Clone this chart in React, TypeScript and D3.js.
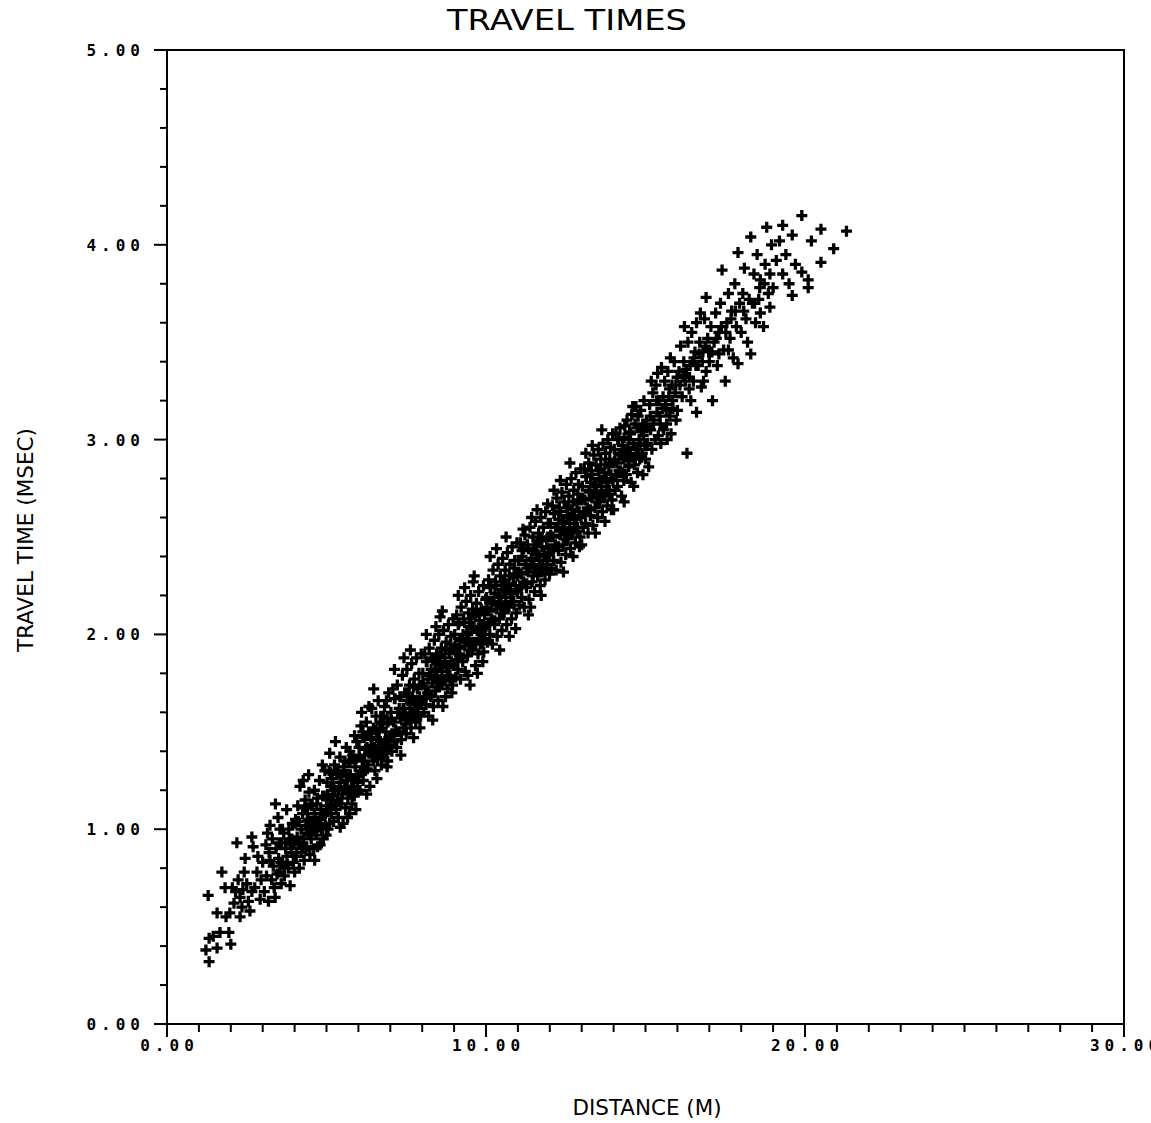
import React from "react";
import * as d3 from "d3";

const nearPoints: [number, number][] = [
  [1.22,0.38],[1.29,0.66],[1.32,0.32],[1.32,0.44],[1.57,0.39],[1.57,0.57],[1.66,0.47],[1.72,0.78],[1.82,0.70],[1.94,0.47],[1.97,0.57],[1.45,0.45],[1.85,0.55],
  [2.0,0.41],[2.19,0.93],[2.23,0.74],[2.29,0.55],[2.29,0.65],[2.5,0.72],[2.6,0.58],[2.66,0.68],[2.66,0.96],[2.7,0.91],[2.82,0.78],[2.92,0.64],[2.1,0.62],[2.15,0.68],[2.35,0.60],[2.42,0.78],[2.55,0.63],[2.75,0.70],[2.85,0.86],[2.95,0.74],[2.45,0.85],[2.05,0.7],[2.38,0.69],
  [3.0,0.83],[3.23,1.02],[3.23,0.84],[3.39,0.65],[3.54,1.0],[3.54,0.78],[3.76,0.86],[3.05,0.68],[3.1,0.92],[3.12,0.76],[3.18,0.63],[3.2,0.88],[3.28,0.74],[3.3,0.95],[3.33,0.81],[3.36,0.70],[3.42,0.90],[3.45,0.77],[3.48,1.06],[3.5,0.85],[3.58,0.72],[3.6,0.93],[3.63,0.82],[3.66,0.98],[3.68,0.76],[3.72,0.90],[3.75,1.1],[3.8,0.80],[3.83,0.95],[3.86,0.71],[3.9,0.88],[3.93,1.03],[3.96,0.83],[3.98,0.92],[3.15,0.98],[3.4,1.13],
  [4.0,0.78],[4.08,0.96],[4.03,1.05],[4.05,0.86],[4.1,1.12],[4.12,0.93],[4.15,0.80],[4.17,1.22],[4.2,1.0],[4.22,0.88],[4.25,1.08],[4.28,0.95],[4.3,0.84],[4.33,1.15],[4.35,1.02],[4.38,0.91],[4.4,1.08],[4.42,0.98],[4.45,1.19],[4.48,0.87],[4.5,1.04],[4.52,0.95],[4.55,1.13],[4.58,1.01],[4.6,0.90],[4.62,1.2],[4.65,1.06],[4.68,0.97],[4.7,1.13],[4.72,0.91],[4.75,1.03],[4.78,1.25],[4.8,0.92],[4.82,1.1],[4.85,1.0],[4.88,1.17],[4.9,0.95],[4.92,1.07],[4.95,1.3],[4.97,1.02],[4.99,0.97],[4.44,1.28],[4.63,0.84],[4.27,1.25],[4.87,1.33],
];

const middlePoints: [number, number][] = [
  [5.0,1.12],[5.02,1.24],[5.05,1.0],[5.08,1.3],[5.1,1.03],[5.1,1.39],[5.12,1.15],[5.15,1.08],[5.18,1.26],[5.2,1.17],[5.22,1.04],[5.25,1.33],[5.27,1.2],[5.3,1.1],[5.32,1.28],[5.35,1.15],[5.37,1.06],[5.4,1.22],[5.42,1.37],[5.45,1.13],[5.47,1.27],[5.5,1.18],[5.52,1.03],[5.55,1.3],[5.57,1.21],[5.6,1.11],[5.62,1.42],[5.65,1.25],[5.67,1.16],[5.7,1.34],[5.72,1.08],[5.75,1.28],[5.77,1.2],[5.8,1.13],[5.82,1.38],[5.85,1.25],[5.87,1.17],[5.9,1.32],[5.92,1.1],[5.95,1.45],[5.97,1.24],[5.99,1.19],[5.28,1.45],[5.58,1.35],[5.88,1.48],[5.13,1.22],[5.43,1.01],[5.73,1.4],[5.36,1.3],[5.66,1.06],
  [6.0,1.28],[6.02,1.42],[6.05,1.2],[6.08,1.53],[6.1,1.6],[6.12,1.35],[6.15,1.25],[6.18,1.47],[6.2,1.38],[6.22,1.3],[6.25,1.55],[6.27,1.42],[6.3,1.33],[6.32,1.5],[6.35,1.4],[6.36,1.22],[6.4,1.46],[6.42,1.62],[6.45,1.37],[6.47,1.52],[6.5,1.42],[6.52,1.3],[6.55,1.58],[6.57,1.47],[6.6,1.36],[6.62,1.66],[6.65,1.5],[6.67,1.41],[6.7,1.58],[6.72,1.33],[6.75,1.52],[6.77,1.44],[6.8,1.37],[6.82,1.63],[6.85,1.5],[6.87,1.42],[6.9,1.57],[6.92,1.35],[6.95,1.7],[6.97,1.48],[6.99,1.43],[6.14,1.5],[6.33,1.63],[6.58,1.26],[6.78,1.58],[6.9,1.32],[6.48,1.72],[6.26,1.18],[6.68,1.55],[6.88,1.66],
  [7.0,1.47],[7.02,1.6],[7.05,1.4],[7.08,1.72],[7.1,1.55],[7.12,1.45],[7.15,1.67],[7.18,1.5],[7.2,1.42],[7.22,1.74],[7.25,1.6],[7.27,1.5],[7.3,1.68],[7.32,1.57],[7.35,1.46],[7.38,1.79],[7.4,1.62],[7.42,1.52],[7.45,1.7],[7.47,1.59],[7.5,1.49],[7.52,1.82],[7.55,1.66],[7.57,1.56],[7.6,1.74],[7.62,1.62],[7.65,1.52],[7.67,1.85],[7.7,1.68],[7.72,1.59],[7.75,1.77],[7.77,1.65],[7.8,1.55],[7.82,1.88],[7.85,1.72],[7.87,1.62],[7.9,1.8],[7.92,1.68],[7.95,1.58],[7.97,1.9],[7.99,1.74],[7.13,1.82],[7.43,1.88],[7.73,1.47],[7.33,1.38],[7.63,1.92],[7.93,1.52],[7.28,1.62],[7.58,1.7],[7.88,1.66],
  [8.0,1.66],[8.02,1.8],[8.05,1.6],[8.08,1.9],[8.1,1.73],[8.12,1.64],[8.15,1.86],[8.18,1.7],[8.2,1.58],[8.22,1.93],[8.25,1.79],[8.27,1.68],[8.3,1.88],[8.32,1.75],[8.35,1.63],[8.38,1.97],[8.4,1.82],[8.42,1.71],[8.45,1.9],[8.47,1.78],[8.5,1.66],[8.52,2.0],[8.55,1.85],[8.56,2.09],[8.58,1.74],[8.6,1.93],[8.62,1.81],[8.65,1.63],[8.67,2.02],[8.7,1.88],[8.72,1.77],[8.75,1.96],[8.77,1.84],[8.8,1.72],[8.82,2.05],[8.85,1.9],[8.87,1.79],[8.9,1.99],[8.92,1.86],[8.95,1.74],[8.97,2.08],[8.99,1.92],[8.13,2.0],[8.43,2.04],[8.73,1.68],[8.33,1.56],[8.63,2.12],[8.93,1.7],[8.28,1.82],[8.58,1.9],[8.88,1.95],[8.18,1.77],[8.48,1.86],
  [9.0,1.85],[9.02,2.0],[9.05,1.78],[9.08,2.1],[9.1,1.93],[9.12,1.82],[9.15,2.06],[9.18,1.9],[9.2,1.77],[9.22,2.14],[9.25,1.98],[9.27,1.86],[9.3,2.08],[9.32,1.94],[9.35,1.81],[9.38,2.17],[9.4,2.01],[9.42,1.89],[9.45,2.11],[9.47,1.97],[9.5,1.74],[9.52,2.2],[9.55,2.04],[9.57,1.92],[9.6,2.27],[9.62,2.1],[9.65,1.96],[9.67,1.84],[9.7,2.16],[9.72,2.02],[9.75,1.9],[9.77,2.22],[9.8,2.07],[9.82,1.95],[9.85,2.13],[9.87,2.0],[9.9,1.86],[9.92,2.25],[9.95,2.1],[9.97,1.97],[9.99,2.18],[9.13,2.2],[9.43,1.79],[9.73,1.8],[9.33,2.24],[9.63,2.3],[9.93,1.91],[9.28,2.0],[9.58,2.13],[9.88,2.05],[9.18,1.97],[9.48,2.06],
  [10.0,2.04],[10.02,2.19],[10.05,1.96],[10.08,2.28],[10.1,2.12],[10.12,2.0],[10.15,2.24],[10.18,2.08],[10.2,1.95],[10.22,2.33],[10.25,2.17],[10.27,2.05],[10.3,2.27],[10.32,2.13],[10.35,1.99],[10.38,2.36],[10.4,2.2],[10.42,2.08],[10.45,2.3],[10.47,2.16],[10.5,2.02],[10.52,2.39],[10.55,2.23],[10.57,2.11],[10.6,2.33],[10.62,2.19],[10.65,2.05],[10.67,2.42],[10.7,2.26],[10.72,2.14],[10.75,2.36],[10.77,2.22],[10.8,2.08],[10.82,2.45],[10.85,2.29],[10.87,2.17],[10.9,2.38],[10.92,2.25],[10.95,2.11],[10.97,2.47],[10.99,2.3],[10.13,2.4],[10.43,1.92],[10.73,1.99],[10.33,2.44],[10.63,2.5],[10.93,2.03],[10.28,2.21],[10.58,2.28],[10.88,2.34],[10.18,2.16],[10.48,2.25],
  [11.0,2.23],[11.02,2.38],[11.05,2.15],[11.08,2.47],[11.1,2.31],[11.12,2.19],[11.16,2.54],[11.18,2.27],[11.2,2.14],[11.22,2.51],[11.25,2.36],[11.27,2.24],[11.3,2.46],[11.32,2.32],[11.35,2.18],[11.38,2.55],[11.4,2.14],[11.42,2.39],[11.45,2.27],[11.47,2.5],[11.5,2.35],[11.52,2.22],[11.55,2.58],[11.57,2.42],[11.6,2.64],[11.62,2.3],[11.65,2.52],[11.67,2.38],[11.7,2.25],[11.72,2.6],[11.75,2.45],[11.77,2.33],[11.8,2.55],[11.82,2.41],[11.85,2.28],[11.87,2.63],[11.9,2.48],[11.92,2.36],[11.95,2.57],[11.97,2.44],[11.99,2.31],[11.13,2.4],[11.43,2.6],[11.73,2.2],[11.33,2.1],[11.63,2.47],[11.93,2.67],[11.28,2.34],[11.58,2.32],[11.88,2.4],[11.18,2.44],[11.48,2.43],
];

const upperPoints: [number, number][] = [
  [12.0,2.42],[12.02,2.57],[12.05,2.34],[12.08,2.66],[12.1,2.5],[12.12,2.38],[12.15,2.62],[12.18,2.46],[12.2,2.33],[12.22,2.7],[12.25,2.55],[12.27,2.43],[12.3,2.65],[12.32,2.51],[12.35,2.37],[12.38,2.73],[12.4,2.58],[12.42,2.46],[12.45,2.68],[12.47,2.54],[12.5,2.41],[12.52,2.77],[12.55,2.61],[12.57,2.49],[12.6,2.71],[12.62,2.57],[12.65,2.44],[12.67,2.8],[12.7,2.64],[12.72,2.52],[12.75,2.74],[12.77,2.6],[12.8,2.47],[12.82,2.83],[12.85,2.67],[12.87,2.55],[12.9,2.77],[12.92,2.63],[12.95,2.5],[12.97,2.85],[12.99,2.69],[12.13,2.74],[12.43,2.32],[12.73,2.4],[12.33,2.79],[12.63,2.88],[12.93,2.45],[12.28,2.59],[12.58,2.66],[12.88,2.72],[12.18,2.55],
  [13.0,2.46],[13.02,2.76],[13.05,2.55],[13.08,2.85],[13.1,2.69],[13.12,2.57],[13.15,2.81],[13.18,2.65],[13.2,2.52],[13.22,2.88],[13.25,2.73],[13.27,2.61],[13.3,2.84],[13.32,2.7],[13.35,2.56],[13.38,2.92],[13.4,2.77],[13.42,2.65],[13.45,2.87],[13.47,2.73],[13.5,2.6],[13.52,2.95],[13.55,2.8],[13.57,2.68],[13.6,2.9],[13.62,2.76],[13.65,2.63],[13.67,2.98],[13.7,2.83],[13.72,2.71],[13.75,2.93],[13.77,2.79],[13.8,2.66],[13.82,3.0],[13.85,2.86],[13.87,2.74],[13.9,2.96],[13.92,2.82],[13.95,2.69],[13.97,3.03],[13.99,2.88],[13.13,2.93],[13.43,2.52],[13.73,2.58],[13.33,2.97],[13.63,3.05],[13.93,2.64],[13.28,2.78],[13.58,2.85],[13.88,2.9],
  [14.0,2.64],[14.02,2.95],[14.05,2.74],[14.08,3.03],[14.1,2.88],[14.12,2.76],[14.15,3.0],[14.2,3.06],[14.22,2.84],[14.25,2.71],[14.27,2.97],[14.3,2.9],[14.32,2.79],[14.35,3.07],[14.38,2.94],[14.4,2.82],[14.42,3.1],[14.45,2.96],[14.47,2.86],[14.5,3.04],[14.52,2.92],[14.55,2.78],[14.57,3.13],[14.6,3.17],[14.62,2.98],[14.65,2.87],[14.67,3.08],[14.7,3.17],[14.72,2.95],[14.75,2.83],[14.77,3.12],[14.8,3.0],[14.82,2.9],[14.85,3.15],[14.87,3.04],[14.9,2.93],[14.92,2.82],[14.95,3.2],[14.97,3.08],[14.99,2.97],[14.18,2.92],[14.48,3.0],[14.78,3.06],[14.33,2.68],[14.63,2.76],[14.93,3.02],
  [15.0,2.9],[15.03,3.1],[15.06,2.98],[15.1,2.86],[15.13,3.18],[15.16,3.05],[15.2,2.95],[15.23,3.24],[15.26,3.1],[15.3,3.0],[15.33,3.28],[15.36,3.14],[15.4,3.02],[15.43,3.2],[15.46,3.08],[15.5,3.37],[15.53,3.16],[15.56,3.05],[15.6,3.3],[15.63,3.18],[15.66,3.08],[15.7,3.35],[15.73,3.22],[15.76,3.12],[15.8,3.03],[15.83,3.28],[15.86,3.16],[15.9,3.4],[15.93,3.24],[15.96,3.1],[15.99,3.32],[15.18,3.3],[15.48,2.98],[15.78,3.42],[15.38,3.34],[15.68,3.0],
];

const farPoints: [number, number][] = [
  [16.0,3.15],[16.05,3.35],[16.1,3.48],[16.15,3.22],[16.2,3.4],[16.25,3.3],[16.3,2.93],[16.33,3.5],[16.37,3.26],[16.4,3.38],[16.45,3.55],[16.5,3.3],[16.55,3.45],[16.6,3.14],[16.6,3.6],[16.65,3.38],[16.7,3.5],[16.75,3.27],[16.8,3.45],[16.85,3.62],[16.9,3.73],[16.9,3.35],[16.95,3.52],[16.42,3.2],[16.72,3.65],[16.22,3.58],[16.52,3.42],[16.82,3.3],
  [17.0,3.4],[17.05,3.58],[17.1,3.2],[17.15,3.5],[17.2,3.65],[17.25,3.38],[17.3,3.55],[17.35,3.7],[17.4,3.87],[17.45,3.46],[17.5,3.3],[17.55,3.6],[17.6,3.75],[17.65,3.52],[17.7,3.66],[17.75,3.42],[17.8,3.8],[17.85,3.58],[17.9,3.96],[17.9,3.39],[17.95,3.7],[17.3,3.44],[17.6,3.46],
  [18.0,3.55],[18.05,3.75],[18.1,3.88],[18.15,3.62],[18.2,3.5],[18.3,4.04],[18.3,3.44],[18.35,3.7],[18.4,3.85],[18.45,3.6],[18.5,3.95],[18.55,3.72],[18.6,3.82],[18.7,3.58],[18.75,3.9],[18.8,4.09],[18.85,3.75],[18.9,3.85],[18.95,4.0],[18.6,3.65],[18.9,3.68],
  [19.0,3.78],[19.1,3.92],[19.2,4.02],[19.3,3.85],[19.4,3.95],[19.5,3.8],[19.6,3.74],[19.6,4.05],[19.7,3.9],[19.9,4.15],[19.9,3.86],[20.1,3.78],[20.1,3.82],[20.2,4.02],[20.5,4.08],[20.5,3.91],[20.9,3.98],[21.3,4.07],[19.3,4.1],
];

// Extra observations in the dense core of the band
const corePoints: [number, number][] = [
  [3.52,0.93],[3.57,0.83],[3.62,1.0],[3.67,0.80],[3.72,0.93],[3.77,0.82],[3.82,1.0],[3.87,0.92],[3.92,0.95],[3.97,0.86],
  [4.02,1.03],[4.07,0.88],[4.12,1.04],[4.17,0.93],[4.22,1.0],[4.27,0.9],[4.32,1.11],[4.37,1.0],[4.42,1.05],[4.47,0.97],[4.52,1.12],[4.57,1.0],[4.62,1.08],[4.67,0.99],[4.72,1.16],[4.77,1.02],[4.82,1.05],[4.87,1.0],[4.92,1.17],[4.97,1.08],
  [5.03,1.18],[5.07,1.1],[5.13,1.29],[5.17,1.13],[5.23,1.22],[5.28,1.12],[5.33,1.3],[5.38,1.2],[5.43,1.24],[5.48,1.16],[5.53,1.32],[5.58,1.2],[5.63,1.27],[5.68,1.19],[5.73,1.35],[5.78,1.22],[5.83,1.26],[5.88,1.2],[5.93,1.36],[5.98,1.27],
  [6.03,1.37],[6.07,1.29],[6.13,1.48],[6.17,1.32],[6.23,1.41],[6.28,1.31],[6.33,1.49],[6.38,1.39],[6.43,1.43],[6.48,1.35],[6.53,1.51],[6.58,1.39],[6.63,1.46],[6.68,1.38],[6.73,1.54],[6.78,1.41],[6.83,1.45],[6.88,1.39],[6.93,1.55],[6.98,1.46],
  [7.03,1.56],[7.07,1.48],[7.13,1.67],[7.17,1.51],[7.23,1.6],[7.28,1.5],[7.33,1.68],[7.38,1.58],[7.43,1.62],[7.48,1.54],[7.53,1.7],[7.58,1.58],[7.63,1.65],[7.68,1.57],[7.73,1.73],[7.78,1.6],[7.83,1.64],[7.88,1.58],[7.93,1.74],[7.98,1.65],
  [8.03,1.75],[8.07,1.67],[8.13,1.86],[8.17,1.7],[8.23,1.79],[8.28,1.69],[8.33,1.87],[8.38,1.77],[8.43,1.81],[8.48,1.73],[8.53,1.89],[8.58,1.77],[8.63,1.84],[8.68,1.76],[8.73,1.92],[8.78,1.79],[8.83,1.83],[8.88,1.77],[8.93,1.93],[8.98,1.84],
  [9.03,1.94],[9.07,1.86],[9.13,2.05],[9.17,1.89],[9.23,1.98],[9.28,1.88],[9.33,2.06],[9.38,1.96],[9.43,2.0],[9.48,1.92],[9.53,2.08],[9.58,1.96],[9.63,2.03],[9.68,1.95],[9.73,2.11],[9.78,1.98],[9.83,2.02],[9.88,1.96],[9.93,2.12],[9.98,2.03],
  [10.03,2.13],[10.07,2.05],[10.13,2.24],[10.17,2.08],[10.23,2.17],[10.28,2.07],[10.33,2.25],[10.38,2.15],[10.43,2.19],[10.48,2.11],[10.53,2.27],[10.58,2.15],[10.63,2.22],[10.68,2.14],[10.73,2.3],[10.78,2.17],[10.83,2.21],[10.88,2.15],[10.93,2.31],[10.98,2.22],
  [11.03,2.32],[11.07,2.24],[11.13,2.43],[11.17,2.27],[11.23,2.36],[11.28,2.26],[11.33,2.44],[11.38,2.34],[11.43,2.38],[11.48,2.3],[11.53,2.46],[11.58,2.34],[11.63,2.41],[11.68,2.33],[11.73,2.49],[11.78,2.36],[11.83,2.4],[11.88,2.34],[11.93,2.5],[11.98,2.41],
  [12.03,2.51],[12.07,2.43],[12.13,2.62],[12.17,2.46],[12.23,2.55],[12.28,2.45],[12.33,2.63],[12.38,2.53],[12.43,2.57],[12.48,2.49],[12.53,2.65],[12.58,2.53],[12.63,2.6],[12.68,2.52],[12.73,2.68],[12.78,2.55],[12.83,2.59],[12.88,2.53],[12.93,2.69],[12.98,2.6],
  [13.03,2.7],[13.07,2.62],[13.13,2.81],[13.17,2.65],[13.23,2.74],[13.28,2.64],[13.33,2.82],[13.38,2.72],[13.43,2.76],[13.48,2.68],[13.53,2.84],[13.58,2.72],[13.63,2.79],[13.68,2.71],[13.73,2.87],[13.78,2.74],[13.83,2.78],[13.88,2.72],[13.93,2.88],[13.98,2.79],
  [14.03,2.89],[14.07,2.81],[14.13,3.0],[14.17,2.84],[14.23,2.93],[14.28,2.83],[14.33,3.01],[14.38,2.91],[14.43,2.95],[14.48,2.87],[14.53,3.03],[14.58,2.91],[14.63,2.98],[14.68,2.9],[14.73,3.06],[14.78,2.93],[14.83,2.97],[14.88,2.91],[14.93,3.07],[14.98,2.98],
  [15.05,3.06],[15.15,3.12],[15.25,3.08],[15.35,3.2],[15.45,3.12],[15.55,3.22],[15.65,3.15],[15.75,3.26],[15.85,3.2],[15.95,3.28],
  [16.08,3.28],[16.18,3.33],[16.28,3.36],[16.38,3.32],[16.48,3.4],[16.58,3.38],[16.68,3.44],[16.78,3.4],[16.88,3.48],[16.98,3.45],
  [17.08,3.45],[17.22,3.52],[17.38,3.58],[17.52,3.55],[17.68,3.62],[17.82,3.66],
  [18.08,3.66],[18.25,3.72],[18.42,3.7],[18.58,3.78],[18.72,3.8],
];

const xTickLabels = ["0.00", "10.00", "20.00", "30.00"];
const xLabelValues = [0, 10, 20, 30];
const yTickLabels = ["0.00", "1.00", "2.00", "3.00", "4.00", "5.00"];
const yLabelValues = [0, 1, 2, 3, 4, 5];

const W = 1151;
const H = 1123;
const left = 167, right = 1124, top = 50, bottom = 1024;

export default function App() {
  const x = d3.scaleLinear().domain([0, 30]).range([left, right]);
  const y = d3.scaleLinear().domain([0, 5]).range([bottom, top]);
  const points = [...nearPoints, ...middlePoints, ...upperPoints, ...farPoints, ...corePoints];
  const xTicks = x.ticks(30);
  const yTicks = y.ticks(25);
  const arm = 5.5;
  const mono = "'DejaVu Sans Mono', monospace";
  const sans = "'DejaVu Sans', sans-serif";
  const plusPath = points
    .map(([dx, ty]) => {
      const px = x(dx), py = y(ty);
      return `M${px - arm},${py}H${px + arm}M${px},${py - arm}V${py + arm}`;
    })
    .join("");
  return (
    <svg width={W} height={H} style={{ position: "absolute", left: 0, top: 0, background: "#fff" }}>
      <rect x={0} y={0} width={W} height={H} fill="#fff" />
      <text x={567} y={30} textAnchor="middle" fontFamily={sans} fontSize={28} textLength={240} lengthAdjust="spacingAndGlyphs" fill="#000">TRAVEL TIMES</text>
      <rect x={left} y={top} width={right - left} height={bottom - top} fill="none" stroke="#000" strokeWidth={2} />
      {xTicks.map((t) => (
        <line key={"xt" + t} x1={x(t)} x2={x(t)} y1={bottom} y2={bottom + (t % 10 === 0 ? 13 : 8)} stroke="#000" strokeWidth={2} />
      ))}
      {yTicks.map((t, i) => (
        <line key={"yt" + i} x1={left} x2={left - (Math.abs(t - Math.round(t)) < 1e-6 ? 13 : 7)} y1={y(t)} y2={y(t)} stroke="#000" strokeWidth={2} />
      ))}
      {xLabelValues.map((v, i) => (
        <text key={"xl" + v} x={x(v) + 2.5} y={1051} textAnchor="middle" fontFamily={mono} fontWeight="bold" fontSize={16} letterSpacing={5} fill="#000">{xTickLabels[i]}</text>
      ))}
      {yLabelValues.map((v, i) => (
        <text key={"yl" + v} x={145} y={y(v) + 6} textAnchor="end" fontFamily={mono} fontWeight="bold" fontSize={16} letterSpacing={5} fill="#000">{yTickLabels[i]}</text>
      ))}
      <path d={plusPath} stroke="#000" strokeWidth={3.3} fill="none" />
      <text x={647} y={1115} textAnchor="middle" fontFamily={sans} fontSize={21} textLength={149} lengthAdjust="spacingAndGlyphs" fill="#000">DISTANCE (M)</text>
      <text transform="translate(33,540) rotate(-90)" textAnchor="middle" fontFamily={sans} fontSize={21} textLength={224} lengthAdjust="spacingAndGlyphs" fill="#000">TRAVEL TIME (MSEC)</text>
    </svg>
  );
}
